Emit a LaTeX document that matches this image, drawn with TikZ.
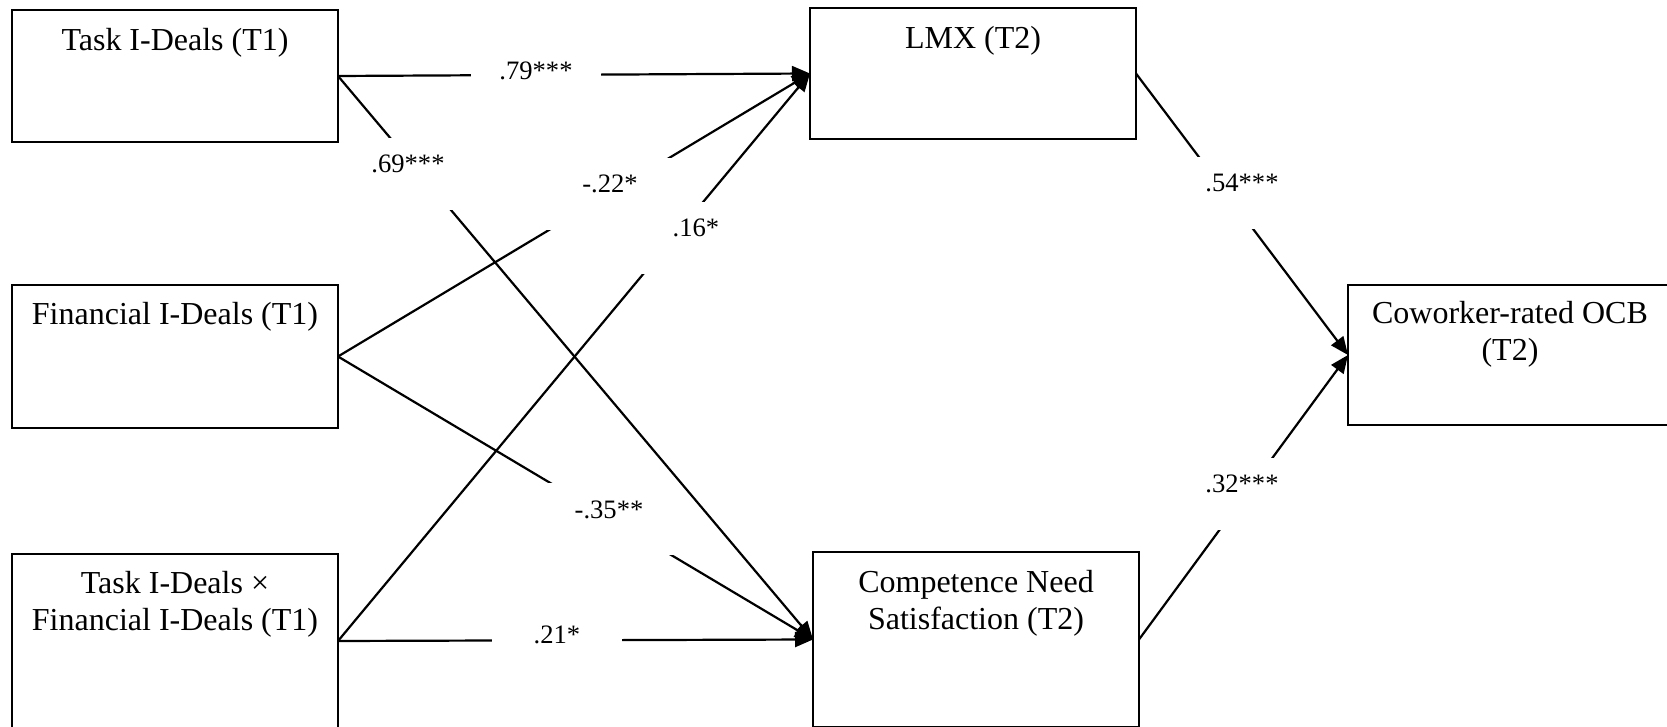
\documentclass[tikz,border=0pt]{standalone}
\usepackage{fontspec}
\setmainfont{Liberation Serif}
\usetikzlibrary{arrows.meta}
\begin{document}
\begin{tikzpicture}[x=0.5pt,y=-0.5pt,
  boxnode/.style={draw=black, line width=1pt, inner sep=0pt, outer sep=0pt, minimum width=163pt},
  boxtext/.style={anchor=base, inner sep=0pt, font=\fontsize{16pt}{18.5pt}\selectfont},
  coef/.style={anchor=base, fill=white, inner sep=0pt, minimum width=65pt, text height=17.5pt, text depth=18.5pt, font=\fontsize{13.3pt}{16pt}\selectfont},
  link/.style={draw=black, line width=1.1pt, -{Triangle[length=9pt,width=7.5pt]}}]
\useasboundingbox (0,0) rectangle (1667,727);
% boxes
\node[boxnode, minimum height=66pt] (task) at (175,76) {};
\node[boxnode, minimum height=71.5pt] (fin) at (175,356.5) {};
\node[boxnode, minimum height=87pt] (inter) at (175,641) {};
\node[boxnode, minimum height=65.5pt] (lmx) at (973,73.5) {};
\node[boxnode, minimum height=87.5pt] (comp) at (976,639.5) {};
\node[boxnode, minimum width=166pt, minimum height=70pt] (ocb) at (1514,355) {};
% box texts
\node[boxtext] (tasktxt) at (175,51) {Task I-Deals (T1)};
\node[boxtext] (fintxt) at (175,325) {Financial I-Deals (T1)};
\node[boxtext] (intertxt) at (175,593) {\begin{tabular}[t]{@{}c@{}}Task I-Deals ×\\Financial I-Deals (T1)\end{tabular}};
\node[boxtext] (lmxtxt) at (973,49) {LMX (T2)};
\node[boxtext] (comptxt) at (976,592) {\begin{tabular}[t]{@{}c@{}}Competence Need\\Satisfaction (T2)\end{tabular}};
\node[boxtext] (ocbtxt) at (1510,324) {\begin{tabular}[t]{@{}c@{}}Coworker-rated OCB\\(T2)\end{tabular}};
% connectors
\draw[link] (task.east) -- (lmx.west);
\draw[link] (task.east) -- (comp.west);
\draw[link] (fin.east) -- (lmx.west);
\draw[link] (fin.east) -- (comp.west);
\draw[link] (inter.east) -- (lmx.west);
\draw[link] (inter.east) -- (comp.west);
\draw[link] (lmx.east) -- (ocb.west);
\draw[link] (comp.east) -- (ocb.west);
% coefficients
\node[coef] (c79) at (536,80) {.79***};
\node[coef] (c69) at (408,173) {.69***};
\node[coef] (c22) at (610,193) {-.22*};
\node[coef] (c16) at (696,237) {.16*};
\node[coef] (c35) at (609,518) {-.35**};
\node[coef] (c21) at (557,643) {.21*};
\node[coef] (c54) at (1242,192) {.54***};
\node[coef] (c32) at (1242,493) {.32***};
\end{tikzpicture}
\end{document}
